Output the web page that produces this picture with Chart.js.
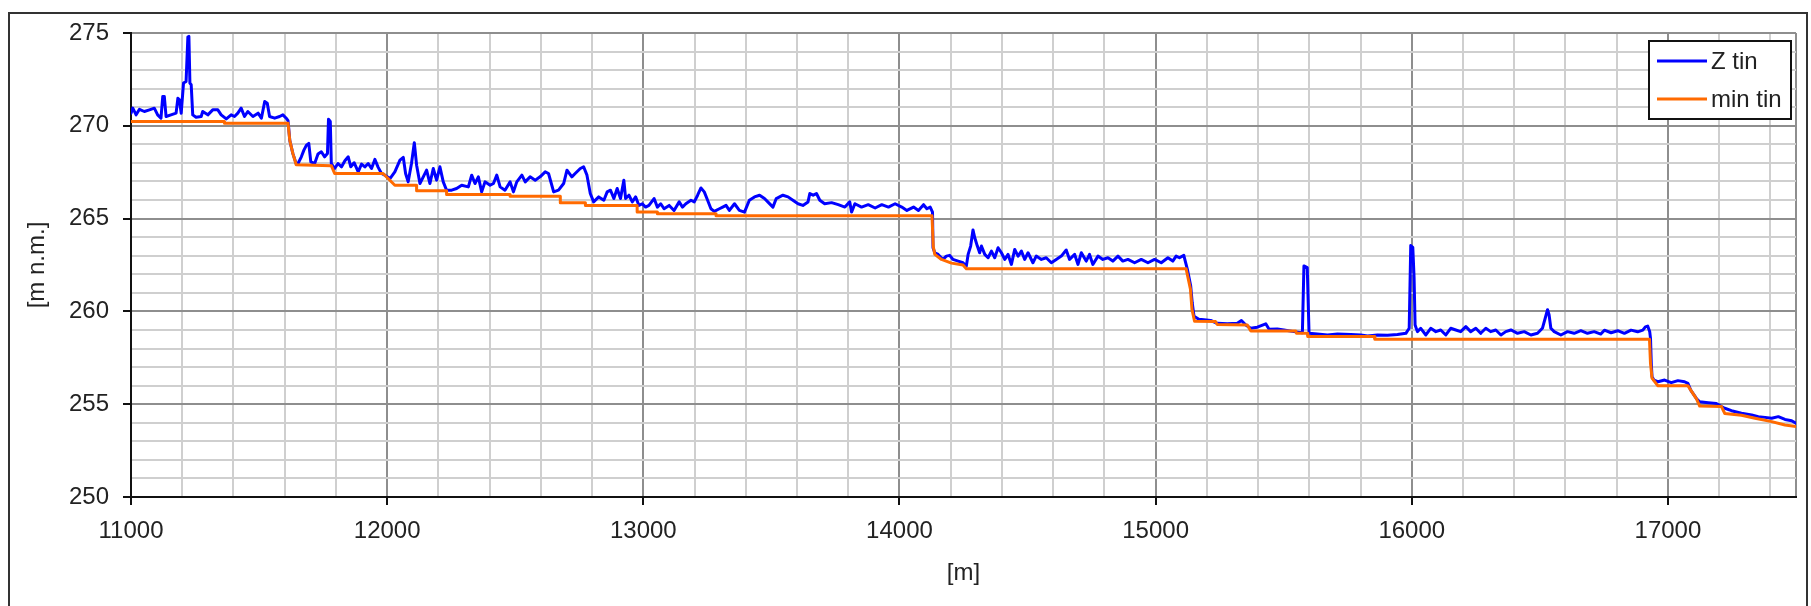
<!DOCTYPE html>
<html>
<head>
<meta charset="utf-8">
<script src="https://cdn.jsdelivr.net/npm/chart.js@4/dist/chart.umd.min.js"></script>
<style>
  html, body { margin: 0; padding: 0; background: #fff; }
  #wrap { position: relative; width: 1811px; height: 606px; overflow: hidden; }
</style>
</head>
<body>
<div id="wrap"><canvas id="profile" width="1811" height="606"></canvas></div>
<script>
// --- Daten ---
const seriesNames = ['Z tin', 'min tin'];

// Z tin: Stationierung [m] und Höhe [m n.m.]
const zDist = [
  11000, 11007, 11020, 11033, 11052, 11072, 11091, 11104, 11117, 11124, 11130, 11137, 11156, 11176, 11183,
  11189, 11196, 11205, 11215, 11222, 11226, 11230, 11235, 11241, 11254, 11274, 11280, 11300, 11319, 11339,
  11352, 11372, 11391, 11404, 11417, 11430, 11443, 11456, 11476, 11496, 11509, 11522, 11532, 11541, 11561,
  11580, 11593, 11606, 11613, 11620, 11632, 11645, 11652, 11665, 11675, 11685, 11694, 11702, 11717, 11730,
  11743, 11756, 11767, 11771, 11778, 11782, 11795, 11808, 11822, 11835, 11848, 11858, 11871, 11887, 11900,
  11913, 11926, 11939, 11952, 11965, 11978, 11991, 12011, 12030, 12050, 12063, 12072, 12082, 12095, 12106,
  12115, 12128, 12141, 12154, 12167, 12180, 12193, 12206, 12219, 12232, 12252, 12271, 12291, 12317, 12330,
  12343, 12356, 12369, 12382, 12402, 12415, 12428, 12441, 12460, 12480, 12493, 12506, 12526, 12539, 12558,
  12578, 12597, 12617, 12630, 12650, 12669, 12689, 12702, 12721, 12734, 12754, 12767, 12780, 12793, 12806,
  12826, 12846, 12859, 12872, 12885, 12898, 12911, 12924, 12931, 12944, 12957, 12970, 12983, 12996, 13009,
  13022, 13042, 13055, 13068, 13081, 13101, 13120, 13140, 13153, 13166, 13186, 13199, 13212, 13225, 13238,
  13251, 13264, 13277, 13297, 13310, 13323, 13336, 13356, 13375, 13395, 13414, 13434, 13454, 13473, 13486,
  13506, 13519, 13532, 13545, 13565, 13584, 13604, 13623, 13643, 13650, 13663, 13676, 13689, 13708, 13735,
  13761, 13787, 13806, 13813, 13826, 13852, 13878, 13905, 13931, 13957, 13983, 14009, 14029, 14055, 14074,
  14094, 14107, 14120, 14129, 14131, 14138, 14151, 14170, 14183, 14196, 14209, 14229, 14248, 14261, 14268,
  14278, 14287, 14294, 14304, 14313, 14320, 14333, 14346, 14359, 14372, 14385, 14398, 14411, 14424, 14437,
  14450, 14463, 14476, 14489, 14502, 14521, 14534, 14554, 14573, 14593, 14612, 14632, 14651, 14664, 14684,
  14697, 14710, 14729, 14742, 14755, 14775, 14794, 14814, 14833, 14853, 14872, 14892, 14918, 14944, 14970,
  14996, 15022, 15048, 15067, 15080, 15093, 15110, 15119, 15124, 15137, 15143, 15150, 15169, 15189, 15215,
  15241, 15280, 15319, 15335, 15352, 15371, 15397, 15430, 15443, 15475, 15501, 15540, 15573, 15579, 15592,
  15599, 15631, 15671, 15710, 15762, 15801, 15827, 15866, 15905, 15944, 15977, 15990, 15996, 16004, 16009,
  16013, 16022, 16035, 16055, 16074, 16094, 16113, 16133, 16152, 16172, 16191, 16211, 16230, 16250, 16269,
  16289, 16308, 16328, 16348, 16367, 16387, 16413, 16439, 16465, 16491, 16510, 16530, 16536, 16543, 16556,
  16582, 16608, 16634, 16660, 16686, 16712, 16738, 16752, 16778, 16804, 16830, 16856, 16882, 16902, 16912,
  16921, 16929, 16932, 16935, 16938, 16945, 16961, 16987, 17013, 17039, 17065, 17078, 17089, 17111, 17124,
  17157, 17189, 17209, 17222, 17248, 17287, 17327, 17353, 17379, 17405, 17431, 17457, 17483, 17500
];
const zTin = [
  270.68, 270.95, 270.59, 270.89, 270.77, 270.86, 270.95, 270.59, 270.41, 271.58, 271.58, 270.50, 270.59, 270.68, 271.49,
  271.40, 270.68, 272.30, 272.39, 274.78, 274.82, 272.30, 272.21, 270.59, 270.46, 270.50, 270.77, 270.59, 270.86, 270.86,
  270.59, 270.37, 270.59, 270.50, 270.68, 270.95, 270.50, 270.77, 270.50, 270.68, 270.41, 271.31, 271.22, 270.50, 270.41,
  270.50, 270.59, 270.41, 270.28, 269.20, 268.50, 267.95, 267.97, 268.33, 268.69, 268.96, 269.05, 268.06, 267.97, 268.48,
  268.60, 268.33, 268.51, 270.35, 270.23, 267.97, 267.70, 267.97, 267.79, 268.12, 268.33, 267.79, 268.01, 267.52, 267.94,
  267.79, 267.97, 267.70, 268.19, 267.76, 267.43, 267.34, 267.16, 267.52, 268.15, 268.30, 267.43, 266.98, 267.97, 269.09,
  267.88, 266.89, 267.25, 267.61, 266.89, 267.70, 267.07, 267.79, 266.98, 266.53, 266.53, 266.62, 266.80, 266.71, 267.34,
  266.89, 267.25, 266.44, 266.98, 266.80, 266.89, 267.34, 266.71, 266.53, 266.98, 266.44, 266.98, 267.34, 266.98, 267.25,
  267.07, 267.25, 267.52, 267.43, 266.44, 266.53, 266.89, 267.61, 267.25, 267.43, 267.70, 267.79, 267.34, 266.35, 265.90,
  266.17, 265.99, 266.44, 266.53, 266.08, 266.62, 266.08, 267.07, 266.08, 266.26, 265.90, 266.17, 265.71, 265.80, 265.62,
  265.71, 266.08, 265.62, 265.80, 265.53, 265.71, 265.44, 265.90, 265.62, 265.80, 265.99, 265.90, 266.26, 266.65, 266.44,
  265.99, 265.53, 265.39, 265.53, 265.62, 265.71, 265.44, 265.80, 265.44, 265.35, 265.99, 266.17, 266.26, 266.08, 265.90,
  265.62, 266.08, 266.17, 266.26, 266.17, 265.99, 265.80, 265.71, 265.90, 266.35, 266.26, 266.35, 265.99, 265.80, 265.86,
  265.75, 265.62, 265.90, 265.35, 265.80, 265.62, 265.75, 265.57, 265.75, 265.62, 265.80, 265.62, 265.44, 265.62, 265.44,
  265.75, 265.53, 265.62, 265.35, 263.43, 263.16, 263.07, 262.80, 262.98, 263.02, 262.80, 262.71, 262.62, 262.44, 263.07,
  263.52, 264.39, 263.97, 263.52, 263.16, 263.52, 263.07, 262.89, 263.25, 262.89, 263.43, 263.16, 262.80, 263.07, 262.53,
  263.34, 262.98, 263.25, 262.80, 263.16, 262.62, 262.98, 262.80, 262.89, 262.62, 262.80, 262.98, 263.31, 262.80, 263.07,
  262.53, 263.16, 262.71, 263.07, 262.53, 262.98, 262.80, 262.89, 262.71, 262.98, 262.71, 262.80, 262.62, 262.80, 262.62,
  262.80, 262.62, 262.89, 262.71, 262.98, 262.89, 263.02, 262.53, 262.27, 261.36, 260.45, 259.73, 259.58, 259.55, 259.51,
  259.36, 259.33, 259.36, 259.51, 259.27, 259.09, 259.15, 259.33, 259.04, 259.05, 259.00, 258.91, 258.85, 262.45, 262.36,
  258.82, 258.78, 258.73, 258.78, 258.76, 258.73, 258.67, 258.73, 258.71, 258.76, 258.82, 259.09, 263.55, 263.45, 261.82,
  259.27, 258.91, 259.09, 258.73, 259.09, 258.91, 259.00, 258.73, 259.09, 259.00, 258.91, 259.18, 258.91, 259.09, 258.82,
  259.09, 258.91, 259.00, 258.73, 258.91, 259.00, 258.82, 258.91, 258.73, 258.82, 259.09, 260.09, 259.82, 259.09, 258.91,
  258.73, 258.91, 258.82, 258.96, 258.82, 258.91, 258.78, 258.99, 258.85, 258.96, 258.82, 258.99, 258.90, 258.99, 259.17,
  259.21, 258.90, 258.55, 257.20, 256.48, 256.30, 256.21, 256.30, 256.16, 256.27, 256.21, 256.12, 255.76, 255.31, 255.13,
  255.08, 255.04, 254.87, 254.78, 254.65, 254.51, 254.42, 254.33, 254.29, 254.24, 254.33, 254.18, 254.11, 253.97
];

// min tin: Stationierung [m] und Höhe [m n.m.]
const minDist = [
  11000, 11365, 11365, 11613, 11620, 11632, 11645, 11782, 11795, 11984, 12030, 12115, 12115, 12232, 12232,
  12480, 12480, 12676, 12676, 12774, 12774, 12976, 12976, 13055, 13055, 13284, 13284, 14127, 14132, 14138,
  14164, 14203, 14248, 14261, 15119, 15136, 15142, 15152, 15234, 15240, 15358, 15371, 15547, 15550, 15592,
  15594, 15853, 15856, 16928, 16932, 16938, 16960, 17078, 17089, 17111, 17124, 17209, 17222, 17287, 17340,
  17405, 17457, 17500
];
const minTin = [
  270.23, 270.23, 270.14, 270.14, 269.20, 268.50, 267.90, 267.85, 267.43, 267.43, 266.80, 266.80, 266.50, 266.50, 266.30,
  266.30, 266.20, 266.20, 265.86, 265.86, 265.71, 265.71, 265.35, 265.35, 265.26, 265.26, 265.15, 265.15, 263.50, 263.07,
  262.80, 262.60, 262.50, 262.30, 262.30, 261.20, 260.10, 259.47, 259.45, 259.30, 259.27, 258.95, 258.95, 258.82, 258.82,
  258.65, 258.65, 258.50, 258.50, 257.20, 256.40, 256.00, 256.00, 255.76, 255.30, 254.90, 254.87, 254.50, 254.40, 254.24,
  254.06, 253.88, 253.80
];

// Achsen
const xMin = 11000, xMax = 17500, xMinor = 200, xMajor = 1000;
const yMin = 250, yMax = 275, yMinor = 1, yMajor = 5;

const FONT = 'Liberation Sans, Arial, sans-serif';
const gridMajor = '#8e8e8e';
const gridMinor = '#cfcfcf';

// Rahmen um die ganze Grafik
const framePlugin = {
  id: 'frame',
  beforeDraw(chart) {
    const ctx = chart.ctx;
    ctx.save();
    ctx.strokeStyle = '#333';
    ctx.lineWidth = 2;
    ctx.strokeRect(9, 13, 1798, 700);
    ctx.restore();
  }
};

// Legende mit Rahmen oben rechts im Diagramm
const boxLegend = {
  id: 'boxLegend',
  afterDraw(chart) {
    const ctx = chart.ctx;
    const bx = 1649, by = 41, bw = 142, bh = 78;
    ctx.save();
    ctx.fillStyle = '#fff';
    ctx.fillRect(bx, by, bw, bh);
    ctx.strokeStyle = '#111';
    ctx.lineWidth = 2;
    ctx.strokeRect(bx, by, bw, bh);
    ctx.font = '24px ' + FONT;
    ctx.textBaseline = 'middle';
    ctx.fillStyle = '#222';
    chart.data.datasets.forEach((ds, i) => {
      const y = by + 20 + i * 38;
      ctx.strokeStyle = ds.borderColor;
      ctx.lineWidth = 3;
      ctx.beginPath();
      ctx.moveTo(bx + 8, y);
      ctx.lineTo(bx + 58, y);
      ctx.stroke();
      ctx.fillText(ds.label, bx + 62, y + 1);
    });
    ctx.restore();
  }
};

const ctx = document.getElementById('profile').getContext('2d');
new Chart(ctx, {
  type: 'line',
  data: {
    datasets: [{
      label: seriesNames[0],
      data: zDist.map((x, i) => ({ x: x, y: zTin[i] })),
      borderColor: '#0000ff',
      borderWidth: 3,
      order: 1
    }, {
      label: seriesNames[1],
      data: minDist.map((x, i) => ({ x: x, y: minTin[i] })),
      borderColor: '#ff6a00',
      borderWidth: 3,
      order: 0
    }]
  },
  options: {
    responsive: false,
    animation: false,
    devicePixelRatio: 1,
    layout: { padding: { left: 0, top: 33, right: 15, bottom: 0 } },
    elements: {
      point: { radius: 0 },
      line: { tension: 0, borderJoinStyle: 'round', borderCapStyle: 'round' }
    },
    plugins: {
      legend: { display: false },
      tooltip: { enabled: false }
    },
    scales: {
      x: {
        type: 'linear',
        min: xMin,
        max: xMax,
        afterFit: (s) => { s.height = 109; },
        afterBuildTicks: (s) => {
          const t = [];
          for (let v = xMin; v < xMax; v += xMinor) t.push({ value: v });
          t.push({ value: xMax });
          s.ticks = t;
        },
        ticks: {
          autoSkip: false,
          maxRotation: 0,
          padding: 12,
          color: '#222',
          font: { family: FONT, size: 24 },
          callback: (v) => (v % xMajor === 0 ? String(v) : '')
        },
        grid: {
          lineWidth: 2,
          tickLength: 8,
          color: (c) => (c.tick && (c.tick.value % xMajor === 0 || c.tick.value === xMax) ? gridMajor : gridMinor),
          tickColor: (c) => (c.tick && c.tick.value % xMajor === 0 ? '#111' : 'rgba(0,0,0,0)')
        },
        border: { color: '#111', width: 2 },
        title: {
          display: true,
          text: '[m]',
          color: '#222',
          font: { family: FONT, size: 24 },
          padding: { top: 0, bottom: 18 }
        }
      },
      y: {
        min: yMin,
        max: yMax,
        afterFit: (s) => { s.width = 131; },
        ticks: {
          stepSize: yMinor,
          autoSkip: false,
          padding: 14,
          color: '#222',
          font: { family: FONT, size: 24 },
          callback: (v) => (v % yMajor === 0 ? String(v) : '')
        },
        grid: {
          lineWidth: 2,
          tickLength: 8,
          color: (c) => (c.tick && c.tick.value % yMajor === 0 ? gridMajor : gridMinor),
          tickColor: (c) => (c.tick && c.tick.value % yMajor === 0 ? '#111' : 'rgba(0,0,0,0)')
        },
        border: { color: '#111', width: 2 },
        title: {
          display: true,
          text: '[m n.m.]',
          color: '#222',
          font: { family: FONT, size: 24 },
          padding: { top: 23, bottom: 0 }
        }
      }
    }
  },
  plugins: [framePlugin, boxLegend]
});
</script>
</body>
</html>
